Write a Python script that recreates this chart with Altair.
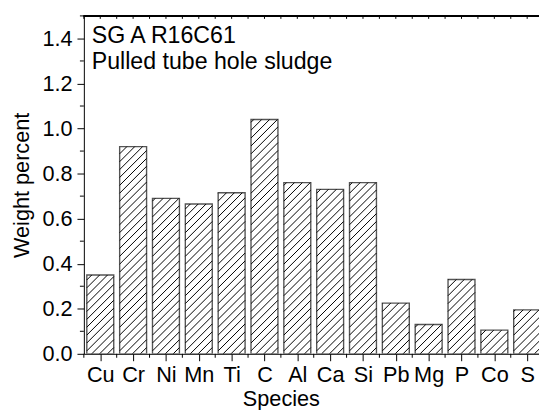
import altair as alt
import pandas as pd

species = ["Cu", "Cr", "Ni", "Mn", "Ti", "C", "Al", "Ca", "Si", "Pb", "Mg", "P", "Co", "S"]
weight = [0.35, 0.92, 0.69, 0.665, 0.715, 1.04, 0.76, 0.73, 0.76, 0.225, 0.13, 0.33, 0.105, 0.195]
y_major = [0.0, 0.2, 0.4, 0.6, 0.8, 1.0, 1.2, 1.4]
y_minor = [0.1, 0.3, 0.5, 0.7, 0.9, 1.1, 1.3, 1.5]
title_lines = ["SG A R16C61", "Pulled tube hole sludge"]

W, H = 462, 343
X_DOM = [-0.5, 13.36]
Y_DOM = [0.0, 1.5]
BAR_HALF = 0.41
HATCH_STEP = 8.0  # px, vertical spacing of hatch lines
FONT = "Liberation Sans"
FS = 22
FS_NOTE = 23.5

px_x = W / (X_DOM[1] - X_DOM[0])
px_y = H / (Y_DOM[1] - Y_DOM[0])

idx = list(range(len(species)))
bars_df = pd.DataFrame({
    "species": species,
    "i": idx,
    "x0": [i - BAR_HALF for i in idx],
    "x1": [i + BAR_HALF for i in idx],
    "zero": [0.0] * len(idx),
    "weight": weight,
})

# hatch segments ("/") inside each bar, computed from the bar values
rows = []
for i, v in zip(idx, weight):
    w = 2 * BAR_HALF * px_x
    h = v * px_y
    k = -int(w / HATCH_STEP) - 1
    while k * HATCH_STEP < h:
        b = k * HATCH_STEP + 3
        xa = max(0.0, -b)
        xb = min(w, h - b)
        if xb > xa:
            rows.append({
                "hx": i - BAR_HALF + xa / px_x,
                "hy": (xa + b) / px_y,
                "hx2": i - BAR_HALF + xb / px_x,
                "hy2": (xb + b) / px_y,
            })
        k += 1
hatch_df = pd.DataFrame(rows)

edges = [i - 0.5 for i in idx] + [idx[-1] + 0.5]
edge_df = pd.DataFrame({"e": edges})
top_df = pd.DataFrame({"t": sorted(edges + idx)})
ymin_df = pd.DataFrame({"m": y_minor})

xs = alt.Scale(domain=X_DOM, nice=False, zero=False)
ys = alt.Scale(domain=Y_DOM, nice=False)

label_expr = "[" + ",".join("'%s'" % s for s in species) + "][datum.value]"

x_axis = alt.Axis(values=idx, labelExpr=label_expr, title="Species", grid=False,
                  tickSize=7, tickColor="black", domainColor="black", labelColor="black",
                  labelFontSize=FS, labelFont=FONT, labelPadding=4, titleFont=FONT,
                  titleFontSize=FS, titleFontWeight="normal", titleColor="black",
                  titleX=200, titleY=52, titleBaseline="alphabetic", labelFlush=False,
                  labelOverlap=False, labelBound=False)
y_axis = alt.Axis(values=y_major, format=".1f", title="Weight percent", grid=False,
                  tickSize=7, tickColor="black", domainColor="black", labelColor="black",
                  labelFontSize=FS, labelFont=FONT, labelPadding=5, titleFont=FONT,
                  titleFontSize=FS, titleFontWeight="normal", titleColor="black",
                  titleX=-56, titleY=H / 2, titleBaseline="alphabetic", titleAngle=270,
                  labelOverlap=False, labelFlush=False)

bars = alt.Chart(bars_df).mark_rect(fill="white", stroke="#555555", strokeWidth=1.4, clip=True).encode(
    x=alt.X("x0:Q", scale=xs, axis=x_axis),
    x2="x1:Q",
    y=alt.Y("zero:Q", scale=ys, axis=y_axis),
    y2="weight:Q",
)

hatch = alt.Chart(hatch_df).mark_rule(color="black", strokeWidth=1, clip=True).encode(
    x=alt.X("hx:Q", scale=xs, axis=x_axis),
    y=alt.Y("hy:Q", scale=ys, axis=y_axis),
    x2="hx2:Q",
    y2="hy2:Q",
)

x_minor = alt.Chart(edge_df).mark_rule(color="black", strokeWidth=1).transform_filter(
    "datum.e <= %f" % X_DOM[1]
).encode(
    x=alt.X("e:Q", scale=xs, axis=x_axis),
    y=alt.value(H),
    y2=alt.value(H + 4),
)

top_line = alt.Chart(edge_df).mark_rule(color="black", strokeWidth=1).encode(
    x=alt.value(0), x2=alt.value(W), y=alt.value(0)
)
top_ticks = alt.Chart(top_df).mark_rule(color="black", strokeWidth=1).transform_filter(
    "datum.t <= %f" % X_DOM[1]
).encode(
    x=alt.X("t:Q", scale=xs, axis=x_axis),
    y=alt.value(0),
    y2=alt.value(3),
)

y_minor_ticks = alt.Chart(ymin_df).mark_rule(color="black", strokeWidth=1).encode(
    y=alt.Y("m:Q", scale=ys, axis=y_axis),
    x=alt.value(0),
    x2=alt.value(-4),
)

notes_df = pd.DataFrame({"txt": title_lines, "yy": [27, 54]})
notes = alt.Chart(notes_df).mark_text(align="left", baseline="alphabetic", font=FONT,
                                      fontSize=FS_NOTE, color="black").encode(
    x=alt.value(8),
    y=alt.Y("yy:Q", scale=None),
    text="txt:N",
)

chart = alt.layer(bars, hatch, x_minor, top_line, top_ticks, y_minor_ticks, notes).properties(
    width=W, height=H,
    autosize=alt.AutoSizeParams(type="none"),
    padding={"left": 77, "top": 5, "right": 0, "bottom": 54},
).configure_view(stroke=None)

chart.save("out.html", embed_options={"renderer": "svg", "actions": False})
